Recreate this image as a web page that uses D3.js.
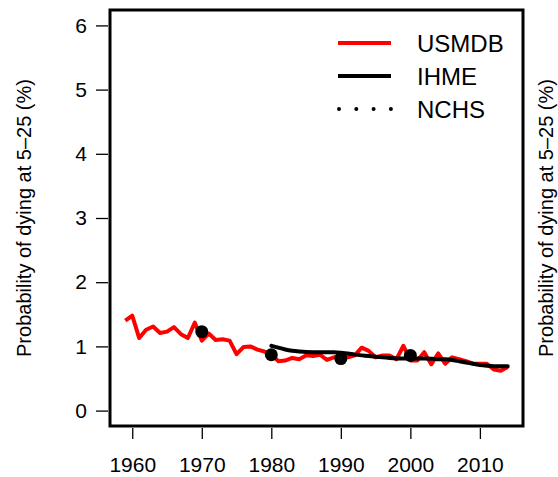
<!DOCTYPE html>
<html>
<head>
<meta charset="utf-8">
<script src="https://cdn.jsdelivr.net/npm/d3@7"></script>
<style>
  body { margin: 0; background: #fff; }
  svg text { font-family: "Liberation Sans", Arial, sans-serif; fill: #000; }
</style>
</head>
<body>
<div class="chart"></div>
<script>
// DATA ------------------------------------
const usmdbYears = [1959,1960,1961,1962,1963,1964,1965,1966,1967,1968,1969,1970,1971,1972,1973,1974,1975,1976,1977,1978,1979,
    1980,1981,1982,1983,1984,1985,1986,1987,1988,1989,1990,1991,1992,1993,1994,1995,1996,1997,1998,1999,
    2000,2001,2002,2003,2004,2005,2006,2007,2008,2009,2010,2011,2012,2013,2014]
const usmdbValues = [1.40,1.48,1.13,1.26,1.31,1.21,1.23,1.30,1.19,1.13,1.37,1.09,1.20,1.10,1.11,1.09,0.88,0.99,1.00,0.95,0.92,
    0.88,0.77,0.78,0.82,0.80,0.86,0.85,0.87,0.79,0.83,0.84,0.83,0.86,0.98,0.93,0.83,0.86,0.86,0.80,1.01,
    0.78,0.78,0.91,0.72,0.89,0.73,0.83,0.80,0.77,0.73,0.73,0.73,0.64,0.62,0.68]

const ihmeYears = [1980,1981,1982,1983,1984,1985,1986,1987,1988,1989,1990,1991,1992,1993,1994,1995,1996,1997,
    1998,1999,2000,2001,2002,2003,2004,2005,2006,2007,2008,2009,2010,2011,2012,2013,2014]
const ihmeValues = [1.01,0.98,0.95,0.93,0.92,0.91,0.91,0.91,0.91,0.91,0.90,0.89,0.87,0.86,0.85,0.84,0.83,0.82,
    0.81,0.81,0.81,0.81,0.81,0.81,0.80,0.80,0.79,0.77,0.75,0.73,0.71,0.70,0.69,0.69,0.69]

const nchsYears = [1970,1980,1990,2000]
const nchsValues = [1.23,0.87,0.81,0.86]

const xTicks = [1960,1970,1980,1990,2000,2010]
const yTicks = [0,1,2,3,4,5,6]
const legendLabels = ["USMDB","IHME","NCHS"]
const yTitle = "Probability of dying at 5\u201325 (%)"

// CHART INIT ------------------------------
const W = 558, H = 477
const box = {left: 110, right: 523, top: 10, bottom: 426}

const svg = d3.select(".chart").append("svg")
    .attr("width", W)
    .attr("height", H)

// R style 4% padding on both axes
const xScale = d3.scaleLinear()
    .domain([1959 - 0.04 * 55, 2014 + 0.04 * 55])
    .range([box.left, box.right])
const yScale = d3.scaleLinear()
    .domain([0 - 0.04 * 6, 6 + 0.04 * 6])
    .range([box.bottom, box.top])

// axes
const yAx = d3.axisLeft(yScale).tickValues(yTicks).tickSize(12).tickPadding(9).tickFormat(d3.format("d"))
const xAx = d3.axisBottom(xScale).tickValues(xTicks).tickSize(11).tickPadding(18).tickFormat(d3.format("d"))

const yGroup = svg.append("g")
    .attr("transform", `translate(${box.left - 2},0)`)
    .call(yAx)
const xGroup = svg.append("g")
    .attr("transform", `translate(0,${box.bottom + 2})`)
    .call(xAx)

for (const g of [yGroup, xGroup]) {
    g.select(".domain").remove()
    g.selectAll(".tick line").attr("stroke", "#000").attr("stroke-width", 1.3)
    g.selectAll(".tick text").style("font-size", "21px").attr("fill", "#000")
}

// axis titles (left one and the neighbouring panel's one at the right edge)
svg.append("text")
    .attr("transform", `translate(24,${(box.top + box.bottom) / 2}) rotate(-90)`)
    .attr("text-anchor", "middle")
    .attr("dy", "0.35em")
    .style("font-size", "20px")
    .text(yTitle)
svg.append("text")
    .attr("transform", `translate(546,${(box.top + box.bottom) / 2}) rotate(-90)`)
    .attr("text-anchor", "middle")
    .attr("dy", "0.35em")
    .style("font-size", "20px")
    .text(yTitle)

// lines
const line = d3.line()
    .x(d => xScale(d[0]))
    .y(d => yScale(d[1]))
    .curve(d3.curveLinear)

svg.append("path")
    .datum(usmdbYears.map((y, i) => [y, usmdbValues[i]]))
    .attr("d", line)
    .attr("fill", "none")
    .attr("stroke", "#ff0000")
    .attr("stroke-width", 4)
    .attr("stroke-linejoin", "round")

svg.append("path")
    .datum(ihmeYears.map((y, i) => [y, ihmeValues[i]]))
    .attr("d", line.curve(d3.curveBasis))
    .attr("fill", "none")
    .attr("stroke", "#000")
    .attr("stroke-width", 4)
    .attr("stroke-linecap", "round")

svg.selectAll("circle.nchs")
    .data(nchsYears.map((y, i) => [y, nchsValues[i]]))
    .join("circle")
    .attr("class", "nchs")
    .attr("cx", d => xScale(d[0]))
    .attr("cy", d => yScale(d[1]))
    .attr("r", 6.5)
    .attr("fill", "#000")

// plot box
svg.append("rect")
    .attr("x", box.left)
    .attr("y", box.top)
    .attr("width", box.right - box.left)
    .attr("height", box.bottom - box.top)
    .attr("fill", "none")
    .attr("stroke", "#000")
    .attr("stroke-width", 3)

// legend
const legend = svg.append("g")
const legY = [43, 76, 109]
legendLabels.forEach((lab, i) => {
    const g = legend.append("g").attr("transform", `translate(0,${legY[i]})`)
    if (i < 2) {
        g.append("line")
            .attr("x1", 338).attr("x2", 391)
            .attr("stroke", i === 0 ? "#ff0000" : "#000")
            .attr("stroke-width", 4)
    } else {
        g.append("line")
            .attr("x1", 339).attr("x2", 391)
            .attr("stroke", "#000")
            .attr("stroke-width", 4)
            .attr("stroke-linecap", "round")
            .attr("stroke-dasharray", "0 17.3")
    }
    g.append("text")
        .attr("x", 417)
        .attr("dy", "0.36em")
        .style("font-size", "24px")
        .text(lab)
})
</script>
</body>
</html>
